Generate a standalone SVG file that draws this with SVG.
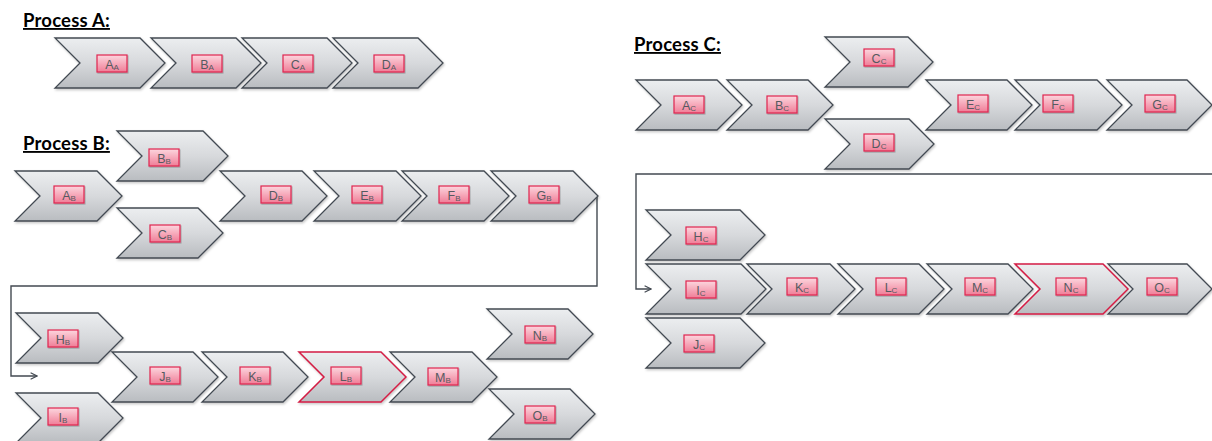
<svg xmlns="http://www.w3.org/2000/svg" width="1212" height="441" viewBox="0 0 1212 441">
  <style>
    .chev { fill: url(#gChev); stroke: #434a52; stroke-width: 1.3; stroke-linejoin: miter; filter: url(#shadow); }
    .chev.hot { stroke: #d41c44; stroke-width: 1.5; }
    .tag { fill: url(#gTag); stroke: #e0234f; stroke-width: 1.2; filter: url(#shadowS); }
    .tagtx { font-family: "Liberation Sans", Arial, sans-serif; font-size: 12.5px; fill: #555a60; text-anchor: middle; }
    .sub { font-size: 8px; }
    .title { font-family: Lato, "Open Sans", sans-serif; font-weight: 700; font-size: 18.5px; letter-spacing: 0.2px; fill: #000; text-decoration: underline; }
    .wire { fill: none; stroke: #434a52; stroke-width: 1.4; }
  </style>
  <defs>
    <linearGradient id="gChev" x1="0" y1="0" x2="0" y2="1">
      <stop offset="0" stop-color="#eceef0"/>
      <stop offset="0.5" stop-color="#d7d9dc"/>
      <stop offset="1" stop-color="#b9bcc0"/>
    </linearGradient>
    <linearGradient id="gTag" x1="0" y1="0" x2="0" y2="1">
      <stop offset="0" stop-color="#fcd6de"/>
      <stop offset="1" stop-color="#f07d97"/>
    </linearGradient>
    <filter id="shadow" x="-10%" y="-10%" width="125%" height="135%">
      <feDropShadow dx="1" dy="1.5" stdDeviation="1" flood-color="#000" flood-opacity="0.22"/>
    </filter>
    <filter id="shadowS" x="-20%" y="-30%" width="150%" height="170%">
      <feDropShadow dx="0.8" dy="1" stdDeviation="0.7" flood-color="#000" flood-opacity="0.25"/>
    </filter>
    <marker id="arrow" viewBox="0 0 10 10" refX="9" refY="5" markerWidth="8" markerHeight="8" orient="auto" markerUnits="userSpaceOnUse">
      <path d="M1,1 L9,5 L1,9" fill="none" stroke="#434a52" stroke-width="1.4"/>
    </marker>
  </defs>

  <!-- section titles -->
  <text class="title" x="23" y="27">Process A:</text>
  <text class="title" x="23" y="150">Process B:</text>
  <text class="title" x="634" y="51">Process C:</text>

  <!-- connectors -->
  <g id="connectors">
    <path class="wire" d="M597,196 V286 H11 V376 H37" marker-end="url(#arrow)"/>
    <path class="wire" d="M1213,174 H636 V289 H651" marker-end="url(#arrow)"/>
  </g>

  <!-- Process A -->
  <g id="A_A"><path class="chev" d="M55,38 H140 L165,63 L140,88 H55 L80,63 Z"/><rect class="tag" x="97" y="55" width="30" height="17"/><text class="tagtx" x="112" y="68.5">A<tspan class="sub" dy="1.5">A</tspan></text></g>
  <g id="B_A"><path class="chev" d="M151,38 H236 L261,63 L236,88 H151 L176,63 Z"/><rect class="tag" x="192" y="55" width="30" height="17"/><text class="tagtx" x="207" y="68.5">B<tspan class="sub" dy="1.5">A</tspan></text></g>
  <g id="C_A"><path class="chev" d="M242,38 H327 L352,63 L327,88 H242 L267,63 Z"/><rect class="tag" x="283" y="55" width="30" height="17"/><text class="tagtx" x="298" y="68.5">C<tspan class="sub" dy="1.5">A</tspan></text></g>
  <g id="D_A"><path class="chev" d="M333,38 H418 L443,63 L418,88 H333 L358,63 Z"/><rect class="tag" x="374" y="55" width="30" height="17"/><text class="tagtx" x="389" y="68.5">D<tspan class="sub" dy="1.5">A</tspan></text></g>

  <!-- Process B -->
  <g id="A_B"><path class="chev" d="M15,171 H97 L122,196 L97,221 H15 L40,196 Z"/><rect class="tag" x="54" y="186" width="30" height="17"/><text class="tagtx" x="69" y="199.5">A<tspan class="sub" dy="1.5">B</tspan></text></g>
  <g id="B_B"><path class="chev" d="M117,131 H203 L228,156 L203,181 H117 L142,156 Z"/><rect class="tag" x="149" y="149" width="30" height="17"/><text class="tagtx" x="164" y="162.5">B<tspan class="sub" dy="1.5">B</tspan></text></g>
  <g id="C_B"><path class="chev" d="M117,208 H198 L223,233 L198,258 H117 L142,233 Z"/><rect class="tag" x="150" y="225" width="30" height="17"/><text class="tagtx" x="165" y="238.5">C<tspan class="sub" dy="1.5">B</tspan></text></g>
  <g id="D_B"><path class="chev" d="M220,171 H302 L327,196 L302,221 H220 L245,196 Z"/><rect class="tag" x="261" y="186" width="30" height="17"/><text class="tagtx" x="276" y="199.5">D<tspan class="sub" dy="1.5">B</tspan></text></g>
  <g id="E_B"><path class="chev" d="M314,171 H396 L421,196 L396,221 H314 L339,196 Z"/><rect class="tag" x="352" y="186" width="30" height="17"/><text class="tagtx" x="367" y="199.5">E<tspan class="sub" dy="1.5">B</tspan></text></g>
  <g id="F_B"><path class="chev" d="M402,171 H484 L509,196 L484,221 H402 L427,196 Z"/><rect class="tag" x="439" y="186" width="30" height="17"/><text class="tagtx" x="454" y="199.5">F<tspan class="sub" dy="1.5">B</tspan></text></g>
  <g id="G_B"><path class="chev" d="M491,171 H573 L598,196 L573,221 H491 L516,196 Z"/><rect class="tag" x="529" y="186" width="30" height="17"/><text class="tagtx" x="544" y="199.5">G<tspan class="sub" dy="1.5">B</tspan></text></g>
  <g id="H_B"><path class="chev" d="M16,313 H98 L123,338 L98,363 H16 L41,338 Z"/><rect class="tag" x="48" y="330" width="30" height="17"/><text class="tagtx" x="63" y="343.5">H<tspan class="sub" dy="1.5">B</tspan></text></g>
  <g id="I_B"><path class="chev" d="M16,393 H98 L123,418 L98,443 H16 L41,418 Z"/><rect class="tag" x="48" y="408" width="30" height="17"/><text class="tagtx" x="63" y="421.5">I<tspan class="sub" dy="1.5">B</tspan></text></g>
  <g id="J_B"><path class="chev" d="M112,352 H193 L218,377 L193,402 H112 L137,377 Z"/><rect class="tag" x="150" y="367" width="30" height="17"/><text class="tagtx" x="165" y="380.5">J<tspan class="sub" dy="1.5">B</tspan></text></g>
  <g id="K_B"><path class="chev" d="M202,352 H283 L308,377 L283,402 H202 L227,377 Z"/><rect class="tag" x="240" y="367" width="30" height="17"/><text class="tagtx" x="255" y="380.5">K<tspan class="sub" dy="1.5">B</tspan></text></g>
  <g id="L_B"><path class="chev hot" d="M299,352 H381 L406,377 L381,402 H299 L324,377 Z"/><rect class="tag" x="331" y="367" width="30" height="17"/><text class="tagtx" x="346" y="380.5">L<tspan class="sub" dy="1.5">B</tspan></text></g>
  <g id="M_B"><path class="chev" d="M390,352 H472 L497,377 L472,402 H390 L415,377 Z"/><rect class="tag" x="428" y="368" width="30" height="17"/><text class="tagtx" x="443" y="381.5">M<tspan class="sub" dy="1.5">B</tspan></text></g>
  <g id="N_B"><path class="chev" d="M487,309 H568 L593,334 L568,359 H487 L512,334 Z"/><rect class="tag" x="525" y="326" width="30" height="17"/><text class="tagtx" x="540" y="339.5">N<tspan class="sub" dy="1.5">B</tspan></text></g>
  <g id="O_B"><path class="chev" d="M489,389 H570 L595,414 L570,439 H489 L514,414 Z"/><rect class="tag" x="525" y="406" width="30" height="17"/><text class="tagtx" x="540" y="419.5">O<tspan class="sub" dy="1.5">B</tspan></text></g>

  <!-- Process C -->
  <g id="A_C"><path class="chev" d="M636,80 H717 L742,105 L717,130 H636 L661,105 Z"/><rect class="tag" x="674" y="96" width="30" height="17"/><text class="tagtx" x="689" y="109.5">A<tspan class="sub" dy="1.5">C</tspan></text></g>
  <g id="B_C"><path class="chev" d="M727,80 H808 L833,105 L808,130 H727 L752,105 Z"/><rect class="tag" x="767" y="96" width="30" height="17"/><text class="tagtx" x="782" y="109.5">B<tspan class="sub" dy="1.5">C</tspan></text></g>
  <g id="C_C"><path class="chev" d="M825,37 H908 L933,62 L908,87 H825 L850,62 Z"/><rect class="tag" x="864" y="49" width="30" height="17"/><text class="tagtx" x="879" y="62.5">C<tspan class="sub" dy="1.5">C</tspan></text></g>
  <g id="D_C"><path class="chev" d="M825,119 H909 L934,144 L909,169 H825 L850,144 Z"/><rect class="tag" x="864" y="134" width="30" height="17"/><text class="tagtx" x="879" y="147.5">D<tspan class="sub" dy="1.5">C</tspan></text></g>
  <g id="E_C"><path class="chev" d="M926,80 H1007 L1032,105 L1007,130 H926 L951,105 Z"/><rect class="tag" x="958" y="95" width="30" height="17"/><text class="tagtx" x="973" y="108.5">E<tspan class="sub" dy="1.5">C</tspan></text></g>
  <g id="F_C"><path class="chev" d="M1015,80 H1097 L1122,105 L1097,130 H1015 L1040,105 Z"/><rect class="tag" x="1043" y="95" width="30" height="17"/><text class="tagtx" x="1058" y="108.5">F<tspan class="sub" dy="1.5">C</tspan></text></g>
  <g id="G_C"><path class="chev" d="M1107,80 H1187 L1212,105 L1187,130 H1107 L1132,105 Z"/><rect class="tag" x="1145" y="95" width="30" height="17"/><text class="tagtx" x="1160" y="108.5">G<tspan class="sub" dy="1.5">C</tspan></text></g>
  <g id="H_C"><path class="chev" d="M646,210 H740 L765,235 L740,260 H646 L671,235 Z"/><rect class="tag" x="686" y="227" width="30" height="17"/><text class="tagtx" x="701" y="240.5">H<tspan class="sub" dy="1.5">C</tspan></text></g>
  <g id="I_C"><path class="chev" d="M646,264 H741 L766,289 L741,314 H646 L671,289 Z"/><rect class="tag" x="686" y="281" width="30" height="17"/><text class="tagtx" x="701" y="294.5">I<tspan class="sub" dy="1.5">C</tspan></text></g>
  <g id="J_C"><path class="chev" d="M646,318 H740 L765,343 L740,368 H646 L671,343 Z"/><rect class="tag" x="684" y="335" width="30" height="17"/><text class="tagtx" x="699" y="348.5">J<tspan class="sub" dy="1.5">C</tspan></text></g>
  <g id="K_C"><path class="chev" d="M747,264 H830 L855,289 L830,314 H747 L772,289 Z"/><rect class="tag" x="787" y="278" width="30" height="17"/><text class="tagtx" x="802" y="291.5">K<tspan class="sub" dy="1.5">C</tspan></text></g>
  <g id="L_C"><path class="chev" d="M838,264 H919 L944,289 L919,314 H838 L863,289 Z"/><rect class="tag" x="876" y="278" width="30" height="17"/><text class="tagtx" x="891" y="291.5">L<tspan class="sub" dy="1.5">C</tspan></text></g>
  <g id="M_C"><path class="chev" d="M927,264 H1008 L1033,289 L1008,314 H927 L952,289 Z"/><rect class="tag" x="965" y="278" width="30" height="17"/><text class="tagtx" x="980" y="291.5">M<tspan class="sub" dy="1.5">C</tspan></text></g>
  <g id="N_C"><path class="chev hot" d="M1015,264 H1103 L1128,289 L1103,314 H1015 L1040,289 Z"/><rect class="tag" x="1056" y="278" width="30" height="17"/><text class="tagtx" x="1071" y="291.5">N<tspan class="sub" dy="1.5">C</tspan></text></g>
  <g id="O_C"><path class="chev" d="M1108,264 H1187 L1212,289 L1187,314 H1108 L1133,289 Z"/><rect class="tag" x="1147" y="278" width="30" height="17"/><text class="tagtx" x="1162" y="291.5">O<tspan class="sub" dy="1.5">C</tspan></text></g>
</svg>
